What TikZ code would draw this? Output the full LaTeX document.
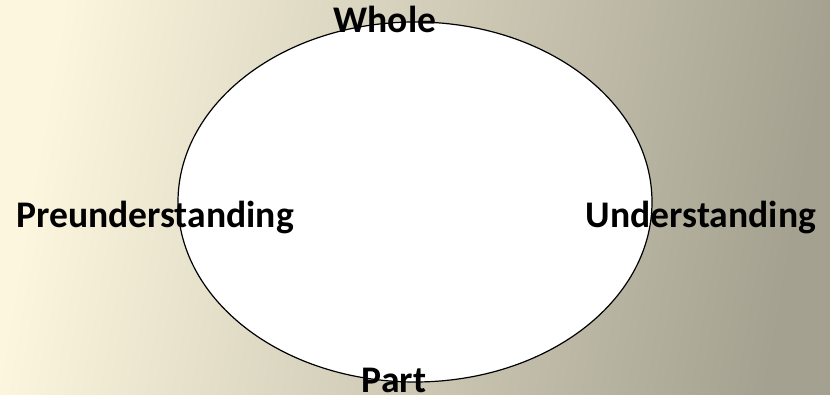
\documentclass[tikz,border=0pt]{standalone}
\usepackage{fontspec}
\setmainfont{Carlito}
\usetikzlibrary{shapes.geometric,positioning}
\definecolor{creamlight}{HTML}{FCF6DE}
\definecolor{tanmid}{HTML}{DCD5BF}
\definecolor{grayright}{HTML}{A4A190}

\begin{document}
\begin{tikzpicture}[
        x=1pt, y=1pt,
        font=\fontsize{37.6}{42}\selectfont\bfseries,
        loop/.style={ellipse, draw=black, fill=white, line width=1.2pt, minimum width=474pt, minimum height=360pt, inner sep=0pt},
        term/.style={anchor=base, inner sep=0pt}
    ]
    \shade[left color=creamlight, middle color=tanmid, right color=grayright, shading angle=80] (0,0) rectangle (830,395);
    \useasboundingbox (0,0) rectangle (830,395);

    \node[loop] (circle) at (415,193) {};

    \node[term] (whole) at (385,362) {Whole};
    \node[term] (pre) at (155,167) {Preunderstanding};
    \node[term] (und) at (701,167) {Understanding};
    \node[term] (part) at (394,2) {Part};
\end{tikzpicture}
\end{document}
